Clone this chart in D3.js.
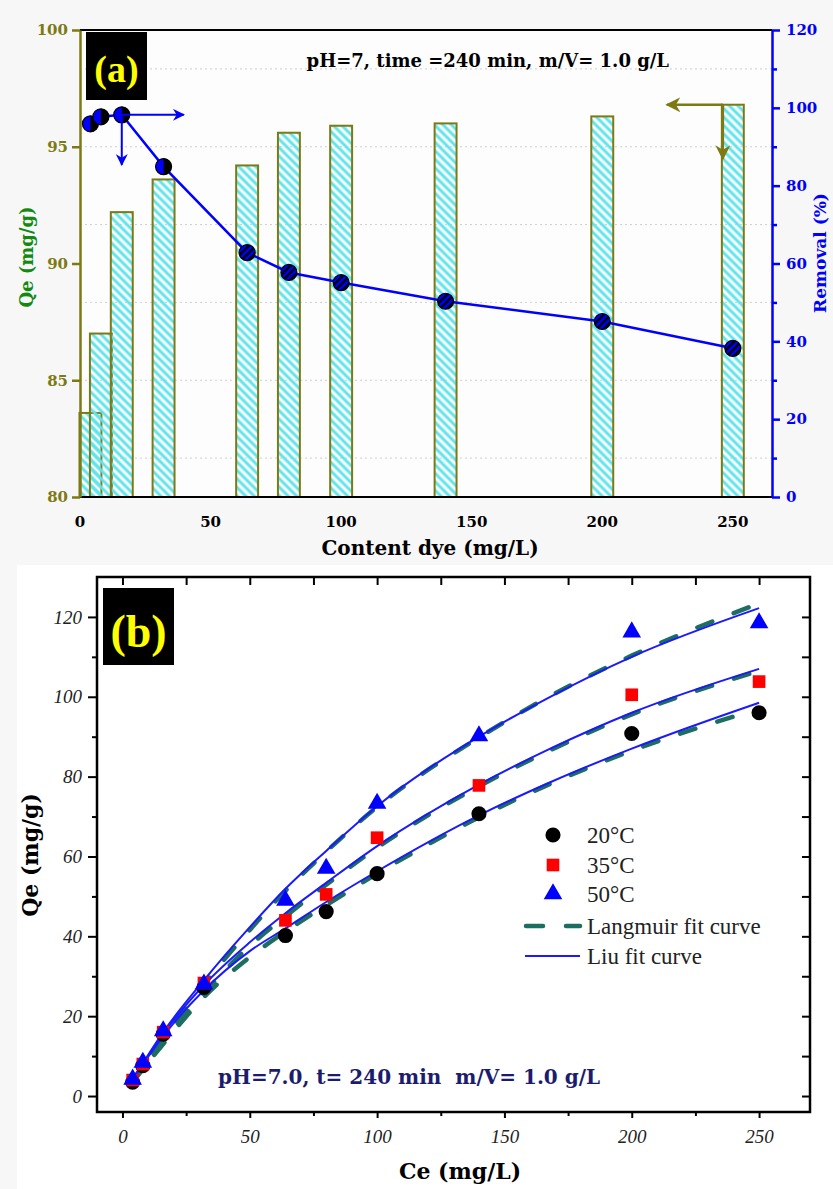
<!DOCTYPE html>
<meta charset="utf-8">
<script src="https://cdn.jsdelivr.net/npm/d3@7"></script>
<style>
body { margin: 0; background: #f7f7f7; }
svg { display: block; }
</style>
<body>
<script>
var W = 833, H = 1189;

// ---- panel (a) data ----
var dyeContent = [4, 8, 16, 32, 64, 80, 100, 140, 200, 250];
var qeA        = [83.6, 87.0, 92.2, 93.6, 94.2, 95.6, 95.9, 96.0, 96.3, 96.8];
var removal    = [95.9, 97.7, 98.2, 84.9, 62.8, 57.7, 55.1, 50.3, 45.1, 38.2];
var qeTicksA   = [80, 85, 90, 95, 100];
var remTicks   = [0, 20, 40, 60, 80, 100, 120];
var remMinor   = [10, 30, 50, 70, 90, 110];
var dyeTicks   = [0, 50, 100, 150, 200, 250];

// ---- panel (b) data ----
var ceX   = [4, 8, 16, 32, 64, 80, 100, 140, 200, 250];
var qe20  = [3.5, 7.6, 15.5, 27.2, 40.2, 46.2, 55.7, 70.7, 90.8, 96.0];
var qe35  = [4.0, 8.0, 16.0, 28.3, 44.0, 50.5, 64.7, 77.8, 100.5, 103.8];
var qe50  = [4.2, 8.4, 16.3, 28.0, 49.0, 57.0, 73.3, 90.2, 116.2, 118.5];
var fitX   = [3, 8, 16, 32, 50, 64, 80, 100, 140, 168, 200, 250];
var liu20  = [3.2, 7.9, 15.0, 26.5, 36.3, 42.0, 48.6, 56.3, 70.3, 78.6, 87.0, 98.5];
var liu35  = [3.3, 8.1, 15.6, 27.8, 38.5, 45.8, 53.4, 62.6, 78.0, 87.0, 96.0, 107.0];
var liu50  = [3.3, 8.2, 16.0, 29.0, 42.3, 51.9, 61.4, 72.6, 90.0, 100.0, 110.0, 122.2];
var lang20 = [2.6, 6.7, 13.0, 24.8, 34.8, 41.2, 47.8, 55.7, 69.8, 78.2, 86.5, 97.0];
var lang35 = [2.7, 7.0, 13.6, 25.8, 37.6, 45.0, 52.9, 62.2, 77.6, 86.6, 95.6, 106.5];
var lang50 = [2.9, 7.5, 14.6, 28.0, 41.6, 51.4, 61.2, 72.4, 89.8, 100.2, 110.3, 123.4];
var legendNames = ["20°C", "35°C", "50°C", "Langmuir fit curve", "Liu fit curve"];

var olive = "#7d7a14", blue = "#0000ff";

var svg = d3.select("body").append("svg").attr("width", W).attr("height", H);
var defs = svg.append("defs");

var hatch = defs.append("pattern").attr("id", "hatch")
    .attr("patternUnits", "userSpaceOnUse")
    .attr("width", 6).attr("height", 6)
    .attr("patternTransform", "rotate(45)");
hatch.append("line").attr("x1", 0).attr("y1", 3).attr("x2", 6).attr("y2", 3)
    .attr("stroke", "#5fe4ec").attr("stroke-width", 3);

var stripe = defs.append("pattern").attr("id", "stripe")
    .attr("patternUnits", "userSpaceOnUse")
    .attr("width", 5).attr("height", 5)
    .attr("patternTransform", "rotate(-45)");
stripe.append("rect").attr("width", 5).attr("height", 5).attr("fill", blue);
stripe.append("rect").attr("width", 5).attr("height", 2.5).attr("fill", "#000");

function arrowHead(id, color) {
  defs.append("marker").attr("id", id)
      .attr("viewBox", "0 0 10 10").attr("refX", 9).attr("refY", 5)
      .attr("markerWidth", 6).attr("markerHeight", 6)
      .attr("orient", "auto")
    .append("path").attr("d", "M0,0 L10,5 L0,10 L3,5 Z").attr("fill", color);
}
arrowHead("arrBlue", blue);
arrowHead("arrOlive", olive);

// =================== panel (a) ===================
var xA = d3.scaleLinear().domain([0, 265]).range([80, 772]);
var yL = d3.scaleLinear().domain([80, 100]).range([497, 30]);
var yR = d3.scaleLinear().domain([0, 120]).range([497, 30]);
var bw = xA(8.4) - xA(0);

var gA = svg.append("g");

gA.append("rect").attr("x", 80).attr("y", 30).attr("width", 692).attr("height", 467)
    .attr("fill", "#fdfdfd");

gA.selectAll(".grid").data(remMinor).enter().append("line")
    .attr("x1", 80).attr("x2", 772)
    .attr("y1", function(d) { return yR(d); })
    .attr("y2", function(d) { return yR(d); })
    .attr("stroke", "#cfcfcf").attr("stroke-dasharray", "2,3");

gA.selectAll(".bar").data(dyeContent).enter().append("rect")
    .attr("x", function(d) { return xA(d) - bw / 2; })
    .attr("y", function(d, i) { return yL(qeA[i]); })
    .attr("width", bw)
    .attr("height", function(d, i) { return yL(80) - yL(qeA[i]); })
    .attr("fill", "url(#hatch)")
    .attr("stroke", olive).attr("stroke-width", 2);

// frame top and bottom
gA.append("line").attr("x1", 80).attr("x2", 772).attr("y1", 30).attr("y2", 30)
    .attr("stroke", "#000").attr("stroke-width", 2);
gA.append("line").attr("x1", 80).attr("x2", 772).attr("y1", 497).attr("y2", 497)
    .attr("stroke", "#000").attr("stroke-width", 2);

// x labels (no ticks)
gA.selectAll(".xl").data(dyeTicks).enter().append("text")
    .attr("x", function(d) { return xA(d); }).attr("y", 527)
    .attr("text-anchor", "middle")
    .style("font", "bold 15px 'DejaVu Serif'")
    .text(function(d) { return d; });

// left axis
var axL = gA.append("g").attr("transform", "translate(80,0)")
    .call(d3.axisLeft(yL).tickValues(qeTicksA).tickSize(8).tickPadding(4).tickSizeOuter(0));
axL.select(".domain").attr("stroke", olive).attr("stroke-width", 2.5);
axL.selectAll(".tick line").attr("stroke", olive).attr("stroke-width", 2.5);
axL.selectAll(".tick text").attr("fill", olive).style("font", "bold 15px 'DejaVu Serif'");

// right axis
var axR = gA.append("g").attr("transform", "translate(772,0)")
    .call(d3.axisRight(yR).tickValues(remTicks).tickSize(8).tickPadding(6).tickSizeOuter(0));
axR.select(".domain").attr("stroke", blue).attr("stroke-width", 2.5);
axR.selectAll(".tick line").attr("stroke", blue).attr("stroke-width", 2.5);
axR.selectAll(".tick text").attr("fill", blue).style("font", "bold 15px 'DejaVu Serif'");
var axRm = gA.append("g").attr("transform", "translate(772,0)")
    .call(d3.axisRight(yR).tickValues(remMinor).tickSize(5).tickFormat(""));
axRm.select(".domain").remove();
axRm.selectAll(".tick line").attr("stroke", blue).attr("stroke-width", 2.5);

// removal line + markers
gA.append("path").datum(dyeContent)
    .attr("d", d3.line()
        .x(function(d) { return xA(d); })
        .y(function(d, i) { return yR(removal[i]); }))
    .attr("fill", "none").attr("stroke", blue).attr("stroke-width", 2.5);

var mk = gA.selectAll(".mk").data(dyeContent).enter().append("g")
    .attr("transform", function(d, i) { return "translate(" + xA(d) + "," + yR(removal[i]) + ")"; });
mk.append("circle").attr("r", 8)
    .attr("fill", function(d, i) { return i < 4 ? blue : "url(#stripe)"; })
    .attr("stroke", "#000").attr("stroke-width", 1.2);
mk.filter(function(d, i) { return i < 4; }).append("path")
    .attr("d", "M0,-8 A8,8 0 0 1 0,8 Z").attr("fill", "#000");

// arrows
var bx = xA(16), by = yR(removal[2]);
gA.append("line").attr("x1", bx).attr("y1", by).attr("x2", bx + 62).attr("y2", by)
    .attr("stroke", blue).attr("stroke-width", 2).attr("marker-end", "url(#arrBlue)");
gA.append("line").attr("x1", bx).attr("y1", by).attr("x2", bx).attr("y2", by + 50)
    .attr("stroke", blue).attr("stroke-width", 2).attr("marker-end", "url(#arrBlue)");
var ox = xA(250) - bw / 2 + 1, oy = yL(qeA[9]);
gA.append("line").attr("x1", ox).attr("y1", oy).attr("x2", ox - 56).attr("y2", oy)
    .attr("stroke", olive).attr("stroke-width", 2.5).attr("marker-end", "url(#arrOlive)");
gA.append("line").attr("x1", ox).attr("y1", oy).attr("x2", ox).attr("y2", oy + 54)
    .attr("stroke", olive).attr("stroke-width", 2.5).attr("marker-end", "url(#arrOlive)");

// label box
gA.append("rect").attr("x", 86).attr("y", 32).attr("width", 61).attr("height", 68).attr("fill", "#000");
gA.append("text").attr("x", 116.5).attr("y", 82).attr("text-anchor", "middle")
    .attr("fill", "#ffff00").style("font", "bold 38px 'Liberation Serif'").text("(a)");

gA.append("text").attr("x", 669).attr("y", 67).attr("text-anchor", "end")
    .style("font", "bold 18px 'DejaVu Serif'").text("pH=7, time =240 min, m/V= 1.0 g/L");

gA.append("text").attr("x", 430).attr("y", 555).attr("text-anchor", "middle")
    .style("font", "bold 20px 'DejaVu Serif'").text("Content dye (mg/L)");

gA.append("text").attr("transform", "translate(33,257) rotate(-90)")
    .attr("text-anchor", "middle").attr("fill", "#118a11")
    .style("font", "bold 18px 'DejaVu Serif'").text("Qe (mg/g)");
gA.append("text").attr("transform", "translate(826,253) rotate(-90)")
    .attr("text-anchor", "middle").attr("fill", blue)
    .style("font", "bold 17px 'DejaVu Serif'").text("Removal (%)");

// =================== panel (b) ===================
var xB = d3.scaleLinear().domain([-10, 270]).range([97, 810]);
var yB = d3.scaleLinear().domain([-4, 130]).range([1112, 577]);

var gB = svg.append("g");
gB.append("rect").attr("x", 17).attr("y", 565).attr("width", W - 17).attr("height", H - 565)
    .attr("fill", "#fff");

function styleAxis(g) {
  g.select(".domain").remove();
  g.selectAll(".tick line").attr("stroke", "#000").attr("stroke-width", 2);
  g.selectAll(".tick text").attr("fill", "#222").style("font", "italic 19px 'Liberation Serif'");
}

gB.append("g").attr("transform", "translate(0,1112)")
    .call(d3.axisBottom(xB).tickValues([0, 50, 100, 150, 200, 250]).tickSize(6).tickPadding(12))
    .call(styleAxis);
gB.append("g").attr("transform", "translate(0,1112)")
    .call(d3.axisBottom(xB).tickValues([25, 75, 125, 175, 225]).tickSize(4).tickFormat(""))
    .call(styleAxis);
gB.append("g").attr("transform", "translate(0,577)")
    .call(d3.axisBottom(xB).tickValues(d3.range(0, 251, 25)).tickSize(8).tickFormat(""))
    .call(styleAxis);
gB.append("g").attr("transform", "translate(97,0)")
    .call(d3.axisLeft(yB).tickValues(d3.range(0, 121, 20)).tickSize(9).tickPadding(6))
    .call(styleAxis);
gB.append("g").attr("transform", "translate(97,0)")
    .call(d3.axisLeft(yB).tickValues(d3.range(10, 121, 20)).tickSize(5).tickFormat(""))
    .call(styleAxis);
gB.append("g").attr("transform", "translate(810,0)")
    .call(d3.axisLeft(yB).tickValues(d3.range(0, 121, 10)).tickSize(8).tickFormat(""))
    .call(styleAxis);

gB.append("rect").attr("x", 97).attr("y", 577).attr("width", 713).attr("height", 535)
    .attr("fill", "none").attr("stroke", "#000").attr("stroke-width", 2.5);

var fitLine = d3.line().curve(d3.curveMonotoneX)
    .x(function(d) { return xB(d[0]); })
    .y(function(d) { return yB(d[1]); });

[lang20, lang35, lang50].forEach(function(s) {
  gB.append("path").datum(d3.zip(fitX, s)).attr("d", fitLine)
      .attr("fill", "none").attr("stroke", "#1d6e60").attr("stroke-width", 4.5)
      .attr("stroke-linecap", "round").attr("stroke-dasharray", "16,23");
});
[liu20, liu35, liu50].forEach(function(s) {
  gB.append("path").datum(d3.zip(fitX, s)).attr("d", fitLine)
      .attr("fill", "none").attr("stroke", "#1a1aff").attr("stroke-width", 2);
});

var symCircle = d3.symbol().type(d3.symbolCircle).size(180);
var symSquare = d3.symbol().type(d3.symbolSquare).size(160);
var symTri = d3.symbol().type(d3.symbolTriangle).size(150);

var series = [
  { vals: qe20, sym: symCircle, color: "#000" },
  { vals: qe35, sym: symSquare, color: "#ff0000" },
  { vals: qe50, sym: symTri, color: blue }
];
series.forEach(function(s) {
  gB.selectAll(null).data(ceX).enter().append("path")
      .attr("d", s.sym())
      .attr("transform", function(d, i) { return "translate(" + xB(d) + "," + yB(s.vals[i]) + ")"; })
      .attr("fill", s.color);
});

// legend
var lgX = 553, lgY = [835, 865, 894, 926, 956];
series.forEach(function(s, i) {
  gB.append("path").attr("d", s.sym())
      .attr("transform", "translate(" + lgX + "," + lgY[i] + ")").attr("fill", s.color);
});
gB.append("line").attr("x1", 526).attr("x2", 580).attr("y1", lgY[3]).attr("y2", lgY[3])
    .attr("stroke", "#1d6e60").attr("stroke-width", 4.5).attr("stroke-linecap", "round")
    .attr("stroke-dasharray", "17,23");
gB.append("line").attr("x1", 525).attr("x2", 580).attr("y1", lgY[4]).attr("y2", lgY[4])
    .attr("stroke", "#1a1aff").attr("stroke-width", 2);
gB.selectAll(".lg").data(legendNames).enter().append("text")
    .attr("x", 587).attr("y", function(d, i) { return lgY[i] + 8; })
    .attr("fill", "#222")
    .style("font", "23px 'Liberation Serif'")
    .text(function(d) { return d; });

// label box (b)
gB.append("rect").attr("x", 103).attr("y", 588).attr("width", 71).attr("height", 77).attr("fill", "#000");
gB.append("text").attr("x", 138.5).attr("y", 647).attr("text-anchor", "middle")
    .attr("fill", "#ffff00").style("font", "bold 46px 'Liberation Serif'").text("(b)");

gB.append("text").attr("x", 218).attr("y", 1084)
    .attr("fill", "#1c1c6e").style("font", "bold 20px 'DejaVu Serif'")
    .style("white-space", "pre")
    .text("pH=7.0, t= 240 min  m/V= 1.0 g/L");

gB.append("text").attr("x", 460).attr("y", 1179).attr("text-anchor", "middle")
    .style("font", "bold 22px 'DejaVu Serif'").text("Ce (mg/L)");
gB.append("text").attr("transform", "translate(38,855) rotate(-90)")
    .attr("text-anchor", "middle")
    .style("font", "bold 22px 'DejaVu Serif'").text("Qe (mg/g)");
</script>
</body>
</html>
